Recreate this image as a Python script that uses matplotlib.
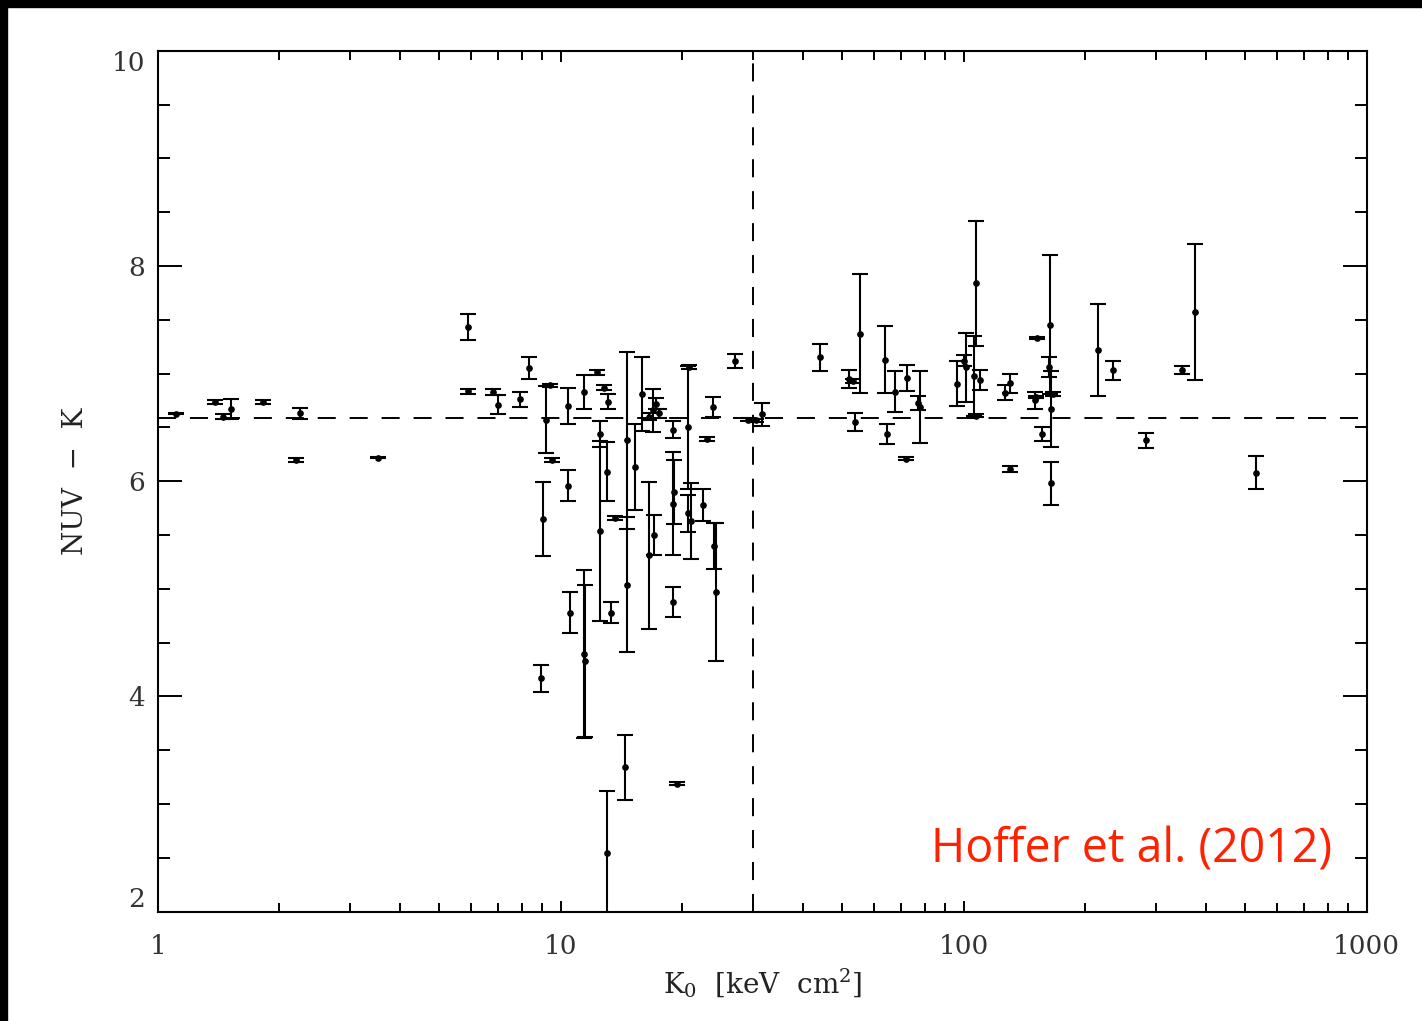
import matplotlib
matplotlib.use("Agg")
import matplotlib.pyplot as plt
from matplotlib.patches import Rectangle
from matplotlib.ticker import LogLocator, MultipleLocator, NullFormatter
import numpy as np

# ---- data ----
k0 = [1.11, 1.39, 1.45, 1.52, 1.83, 2.21, 2.26, 3.52, 5.90, 5.90,
      6.81, 7.00, 7.93, 8.32, 8.92, 9.06, 9.2, 9.4, 9.5, 10.45,
      10.45, 10.55, 11.4, 11.4, 11.5, 12.3, 12.5, 12.5, 12.8, 13.1,
      13.0, 13.06, 13.3, 13.6, 14.4, 14.6, 14.6, 15.3, 15.9, 16.6,
      17.0, 16.9, 17.2, 16.6, 17.5, 19.0, 19.0, 19.1, 19.05, 19.4,
      20.7, 20.8, 20.7, 21.0, 22.5, 23.1, 23.9, 24.0, 24.3, 27.1,
      29.2, 30.5, 31.6, 43.9, 51.8, 53.0, 53.8, 55.3, 63.8, 64.5,
      67.6, 72.3, 72.0, 77.0, 78.0, 96.5, 100.0, 101.5, 107.0, 106.0,
      109.9, 107.0, 126.8, 130.3, 130.4, 150.6, 151.0, 152.0, 156.4, 164.6,
      164.0, 163.0, 167.0, 165.0, 215.0, 235.0, 283.0, 348.0, 375.0, 531.0]
nuv_k = [6.627, 6.735, 6.60, 6.67, 6.735, 6.20, 6.63, 6.218, 7.43, 6.834,
         6.828, 6.71, 6.76, 7.05, 4.17, 5.65, 6.57, 6.89, 6.20, 5.96,
         6.70, 4.78, 6.83, 4.395, 4.33, 7.01, 6.44, 5.535, 6.87, 6.74,
         6.09, 2.55, 4.78, 5.66, 3.34, 6.38, 5.04, 6.13, 6.81, 5.31,
         5.50, 6.66, 6.72, 6.60, 6.63, 6.48, 5.79, 5.90, 4.88, 3.19,
         6.50, 7.06, 5.70, 5.63, 5.78, 6.39, 6.69, 5.40, 4.97, 7.12,
         6.57, 6.565, 6.62, 7.15, 6.95, 6.93, 6.55, 7.37, 7.13, 6.44,
         6.83, 6.96, 6.21, 6.73, 6.69, 6.905, 7.12, 7.06, 7.84, 6.98,
         6.94, 6.61, 6.82, 6.91, 6.115, 6.75, 6.78, 7.33, 6.44, 5.98,
         7.455, 7.06, 6.81, 6.67, 7.22, 7.03, 6.38, 7.035, 7.57, 6.08]
nuv_k_err = [0.005, 0.02, 0.02, 0.09, 0.02, 0.02, 0.05, 0.005, 0.12, 0.025,
             0.03, 0.09, 0.07, 0.10, 0.125, 0.345, 0.31, 0.015, 0.02, 0.14,
             0.17, 0.195, 0.16, 0.78, 0.71, 0.02, 0.12, 0.835, 0.02, 0.07,
             0.27, 0.57, 0.10, 0.02, 0.30, 0.82, 0.63, 0.40, 0.34, 0.68,
             0.19, 0.20, 0.05, 0.03, 0.04, 0.08, 0.48, 0.30, 0.14, 0.015,
             0.57, 0.02, 0.17, 0.35, 0.15, 0.02, 0.09, 0.215, 0.64, 0.065,
             0.015, 0.015, 0.11, 0.125, 0.085, 0.02, 0.08, 0.555, 0.31, 0.09,
             0.19, 0.12, 0.015, 0.065, 0.335, 0.21, 0.05, 0.32, 0.58, 0.37,
             0.09, 0.015, 0.07, 0.09, 0.03, 0.08, 0.01, 0.01, 0.065, 0.20,
             0.645, 0.09, 0.02, 0.35, 0.43, 0.09, 0.07, 0.04, 0.63, 0.155]

mean_colour = 6.59
k0_cut = 30.0

x_ticks = [1, 10, 100, 1000]
x_tick_labels = ["1", "10", "100", "1000"]
y_ticks = [2, 4, 6, 8, 10]
y_tick_labels = ["2", "4", "6", "8", "10"]

# ---- figure ----
plt.rcParams['lines.scale_dashes'] = False
plt.rcParams['mathtext.fontset'] = 'dejavuserif'
plt.rcParams['mathtext.default'] = 'regular'

W, H = 1422, 1021
fig = plt.figure(figsize=(W / 100, H / 100), dpi=100)
fig.patch.set_facecolor('white')
ax = fig.add_axes([157.7 / W, 1 - 911.7 / H, (1366.7 - 157.7) / W, (911.7 - 50.7) / H])

ax.errorbar(k0, nuv_k, yerr=nuv_k_err, fmt='o', ms=3.8, color='black',
            ecolor='black', elinewidth=1.5, capsize=5.8, capthick=1.5, zorder=3)

ax.axhline(mean_colour, color='black', lw=1.4, dashes=(13, 10), zorder=2)
ax.axvline(k0_cut, color='black', lw=1.4, dashes=(13, 10), zorder=2)

ax.set_xscale('log')
ax.set_xlim(1, 1000)
ax.set_ylim(2, 10)

ax.set_xticks(x_ticks, labels=x_tick_labels)
ax.xaxis.set_minor_locator(LogLocator(base=10, subs=np.arange(2, 10)))
ax.xaxis.set_minor_formatter(NullFormatter())
ax.set_yticks(y_ticks, labels=y_tick_labels)
ax.yaxis.set_minor_locator(MultipleLocator(0.5))

for lab in ax.get_xticklabels() + ax.get_yticklabels():
    lab.set_fontfamily('DejaVu Serif')
    lab.set_fontsize(19)
    lab.set_color('#333333')
ylabs = ax.get_yticklabels()
ylabs[0].set_verticalalignment('bottom')
ylabs[-1].set_verticalalignment('top')

ax.tick_params(axis='both', which='both', direction='in', top=True, right=True,
               width=1.4, color='black')
ax.tick_params(axis='y', which='major', length=17, pad=9)
ax.tick_params(axis='y', which='minor', length=8.5)
ax.tick_params(axis='x', which='major', length=8, pad=16)
ax.tick_params(axis='x', which='minor', length=6.5)
for s in ax.spines.values():
    s.set_linewidth(1.5)

ax.set_xlabel(r'K$_0$  [keV  cm$^2$]', fontsize=20, family='DejaVu Serif',
              color='#222222', labelpad=6)
ax.set_ylabel('NUV  −  K', fontsize=20, family='DejaVu Serif', color='#222222',
              labelpad=16)

fig.text(1332 / W, 1 - 862 / H, 'Hoffer et al. (2012)', ha='right', va='baseline',
         fontsize=33.5, color='#ff2200', family='Open Sans')

# black frame bands on top and left
fig.add_artist(Rectangle((0, 1 - 7 / H), 1, 7 / H, transform=fig.transFigure,
                         color='black', zorder=10))
fig.add_artist(Rectangle((0, 0), 7 / W, 1, transform=fig.transFigure,
                         color='black', zorder=10))

fig.savefig('out.png', dpi=100)
